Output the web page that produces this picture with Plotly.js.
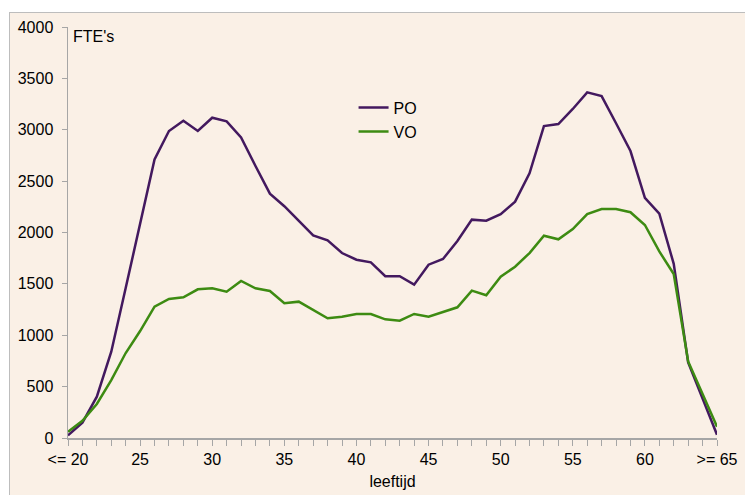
<!DOCTYPE html>
<html>
<head>
<meta charset="utf-8">
<script src="https://cdn.plot.ly/plotly-3.0.1.min.js"></script>
<style>
  html, body { margin: 0; padding: 0; background: #ffffff; width: 745px; height: 495px; overflow: hidden; }
  #chart { position: absolute; left: 9px; top: 12px; width: 736px; height: 483px;
           border-left: 1px solid #bdbdbd; border-top: 1px solid #bdbdbd; }
</style>
</head>
<body>
<div id="chart"></div>
<script>
// Ages (leeftijd) 20 .. 65
const ages = [20,21,22,23,24,25,26,27,28,29,30,31,32,33,34,35,36,37,38,39,40,41,42,43,44,45,46,47,48,49,50,51,52,53,54,55,56,57,58,59,60,61,62,63,64,65];

// FTE's per age, primary education (PO)
const po = [25,150,402,840,1460,2090,2710,2988,3088,2988,3117,3082,2926,2647,2378,2256,2118,1972,1924,1800,1735,1710,1574,1574,1492,1687,1742,1917,2125,2115,2178,2300,2576,3036,3056,3202,3364,3328,3063,2793,2338,2184,1695,735,383,32];

// FTE's per age, secondary education (VO)
const vo = [61,168,331,564,827,1041,1278,1353,1369,1447,1457,1424,1528,1457,1431,1311,1327,1246,1165,1181,1207,1207,1155,1142,1207,1181,1230,1272,1434,1390,1570,1667,1800,1969,1934,2034,2180,2229,2229,2197,2073,1816,1596,745,428,110];

const tickVals = [20,25,30,35,40,45,50,55,60,65];
const tickText = ["<= 20","25","30","35","40","45","50","55","60",">= 65"];
const yTicks = [0,500,1000,1500,2000,2500,3000,3500,4000];

const font = {family: "Liberation Sans, Arial, sans-serif", size: 16, color: "#000000"};
const axisColor = "#a6a6a6";

const traces = [
  {x: ages, y: po, name: "PO", type: "scatter", mode: "lines",
   line: {color: "#43195f", width: 2.5}},
  {x: ages, y: vo, name: "VO", type: "scatter", mode: "lines",
   line: {color: "#3d8b12", width: 2.5}}
];

const layout = {
  width: 736, height: 483,
  margin: {l: 58, r: 29, t: 14, b: 58},
  paper_bgcolor: "#faf0e6",
  plot_bgcolor: "#faf0e6",
  font: font,
  showlegend: true,
  legend: {x: 0.44, y: 0.845, xanchor: "left", yanchor: "top",
           bgcolor: "rgba(0,0,0,0)", font: font, tracegroupgap: 0},
  xaxis: {
    range: [20, 65], tickmode: "array", tickvals: tickVals, ticktext: tickText,
    showgrid: false, zeroline: false, showline: true, linecolor: axisColor, linewidth: 1.5,
    ticks: "outside", ticklen: 6, tickcolor: axisColor, tickwidth: 1,
    minor: {dtick: 1, tick0: 20, ticks: "outside", ticklen: 6, tickcolor: axisColor, tickwidth: 1, showgrid: false},
    tickfont: font,
    title: {text: "leeftijd", font: font, standoff: 9}
  },
  yaxis: {
    range: [0, 4000], tickmode: "array", tickvals: yTicks,
    showgrid: false, zeroline: false, showline: true, linecolor: axisColor, linewidth: 1.5,
    ticks: "outside", ticklen: 5, tickcolor: axisColor, tickwidth: 1,
    tickfont: font, ticklabelstandoff: 5
  },
  annotations: [
    {text: "FTE's", xref: "paper", yref: "paper", x: 0.004, y: 0.978,
     xanchor: "left", yanchor: "middle", showarrow: false, font: font}
  ]
};

Plotly.newPlot("chart", traces, layout, {displayModeBar: false, staticPlot: true});
</script>
</body>
</html>
